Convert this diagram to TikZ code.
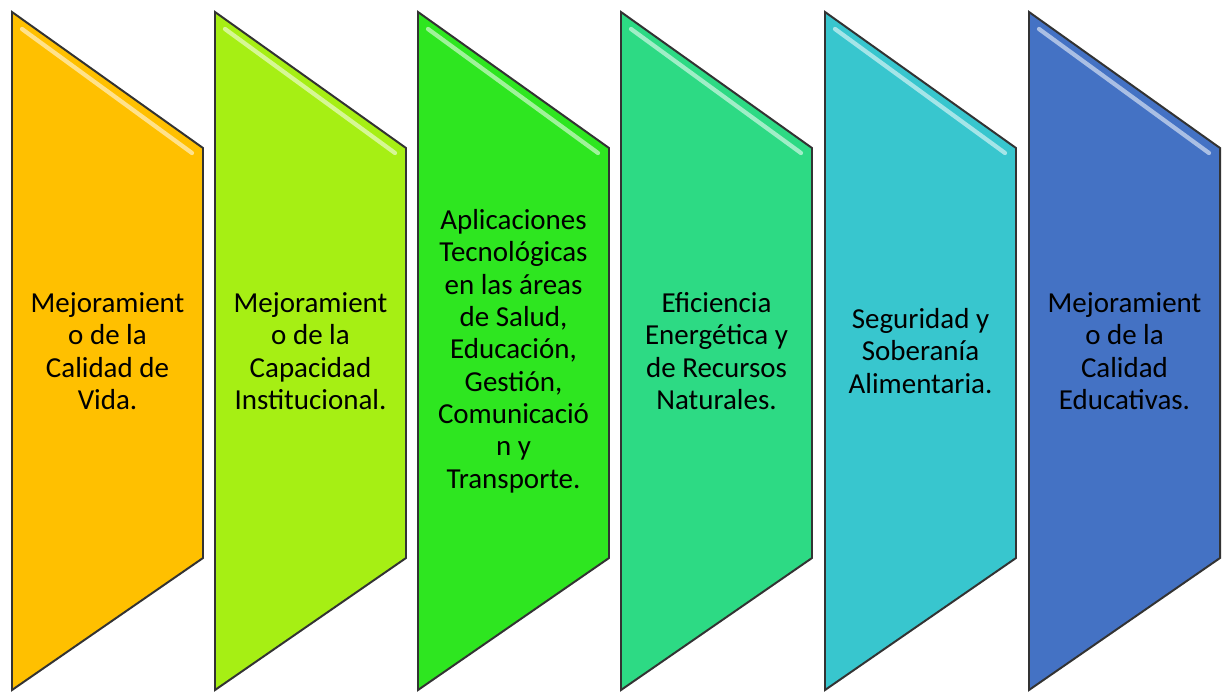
\documentclass[tikz,border=0pt]{standalone}
\usepackage{fontspec}
\setmainfont{Carlito}
\usetikzlibrary{positioning}
\definecolor{vida}{HTML}{FFC000}
\definecolor{inst}{HTML}{A6EF14}
\definecolor{tecn}{HTML}{2EE620}
\definecolor{ener}{HTML}{2DDA84}
\definecolor{alim}{HTML}{38C6CE}
\definecolor{educ}{HTML}{4472C4}
\begin{document}
\begin{tikzpicture}[x=0.025cm,y=-0.025cm,
  panel/.style = {draw=black!80, line width=1.4pt, line join=miter},
  gloss/.style = {white, opacity=0.55, line width=3pt, line cap=round},
  txt/.style = {align=center, inner sep=0pt, font=\fontsize{20.6}{23}\selectfont},]
\useasboundingbox (0,0) rectangle (1222,692);
\filldraw[panel,fill=vida] (12,12) -- (203,148) -- (203,558) -- (12,690) -- cycle;
\filldraw[panel,fill=inst] (215,12) -- (406,148) -- (406,558) -- (215,690) -- cycle;
\filldraw[panel,fill=tecn] (418,12) -- (609,148) -- (609,558) -- (418,690) -- cycle;
\filldraw[panel,fill=ener] (621,12) -- (812,148) -- (812,558) -- (621,690) -- cycle;
\filldraw[panel,fill=alim] (825,12) -- (1016,148) -- (1016,558) -- (825,690) -- cycle;
\filldraw[panel,fill=educ] (1029,12) -- (1220,148) -- (1220,558) -- (1029,690) -- cycle;
\draw[gloss] (22,29) -- (192,153);
\draw[gloss] (225,29) -- (395,153);
\draw[gloss] (428,29) -- (598,153);
\draw[gloss] (631,29) -- (801,153);
\draw[gloss] (835,29) -- (1005,153);
\draw[gloss] (1039,29) -- (1209,153);
\node[txt] (P1) at (107.5,351) {Mejoramient\\o de la\\Calidad de\\Vida.};
\node[txt] (P2) at (310.5,351) {Mejoramient\\o de la\\Capacidad\\Institucional.};
\node[txt] (P3) at (513.5,351) {Aplicaciones\\Tecnológicas\\en las áreas\\de Salud,\\Educación,\\Gestión,\\Comunicació\\n y\\Transporte.};
\node[txt] (P4) at (716.5,351) {Eficiencia\\Energética y\\de Recursos\\Naturales.};
\node[txt] (P5) at (920.5,351) {Seguridad y\\Soberanía\\Alimentaria.};
\node[txt] (P6) at (1124.5,351) {Mejoramient\\o de la\\Calidad\\Educativas.};
\end{tikzpicture}
\end{document}
